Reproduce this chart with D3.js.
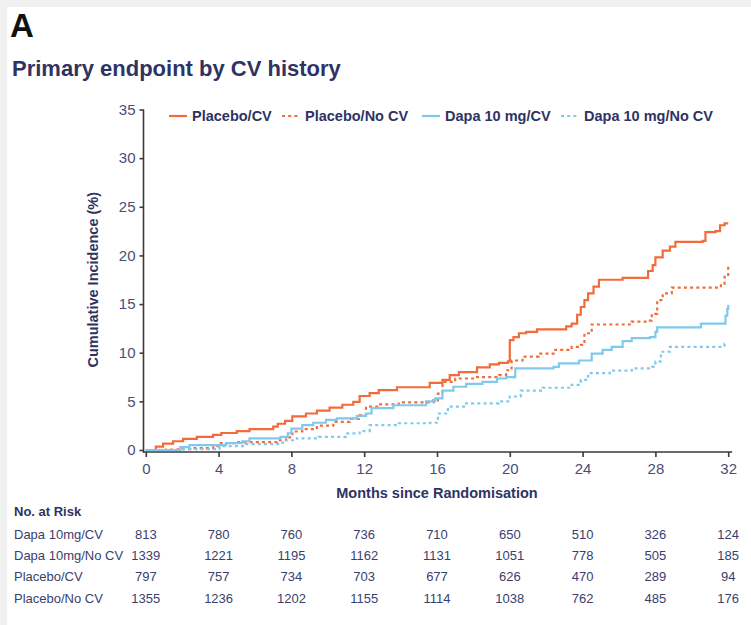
<!DOCTYPE html>
<html lang="en">
    <head>
        <meta charset="utf-8">
        <title>Primary endpoint by CV history</title>
        <script type="text/javascript" src="https://cdn.jsdelivr.net/npm/d3@7/dist/d3.min.js"></script>
        <style>
        body { margin: 0; background: #f1f1f2; }
        svg { display: block; font-family: "Liberation Sans", Arial, sans-serif; }
        .axis path, .axis line { stroke: #3a3a3a; stroke-width: 1.6; }
        .axis text { fill: #4a4e77; font-size: 15px; font-family: "Liberation Sans", Arial, sans-serif; }
        </style>
    </head>
    <body>
        <script type="text/javascript">
            // months since randomisation, cumulative incidence (%)
            var placeboCV = [
                [0, 0], [0.55, 0.35], [0.95, 0.65], [1.5, 0.9], [2.05, 1.15], [2.8, 1.35],
                [3.7, 1.55], [4.15, 1.75], [5.0, 1.95], [5.7, 2.15], [7.0, 2.4], [7.25, 2.7],
                [7.65, 3.0], [8.05, 3.45], [8.8, 3.75], [9.4, 4.05], [10.1, 4.35], [10.8, 4.65],
                [11.4, 4.95], [11.75, 5.55], [12.3, 5.85], [12.8, 6.15], [13.8, 6.45],
                [15.6, 6.9], [16.3, 7.2], [16.7, 7.7], [17.2, 8.0], [18.2, 8.5], [18.9, 8.8],
                [19.4, 8.95], [19.9, 9.1], [20.0, 11.3], [20.2, 11.6], [20.5, 12.0],
                [20.9, 12.15], [21.5, 12.4], [23.1, 12.7], [23.4, 13.0], [23.7, 13.9],
                [23.9, 14.7], [24.1, 15.4], [24.3, 16.1], [24.6, 16.8], [24.9, 17.5],
                [26.2, 17.7], [27.6, 18.4], [27.85, 19.0], [28.0, 19.8], [28.4, 20.5],
                [28.8, 20.9], [29.1, 21.4], [30.6, 21.5], [30.75, 22.4], [31.3, 22.5],
                [31.55, 23.1], [31.8, 23.3], [32.0, 23.3]
            ];
            var placeboNoCV = [
                [0, 0], [1.1, 0.05], [1.8, 0.1], [2.6, 0.2], [3.7, 0.4], [4.05, 0.7],
                [5.0, 0.8], [7.2, 1.0], [7.7, 1.3], [8.05, 1.9], [8.6, 2.15], [9.4, 2.5],
                [10.3, 2.9], [11.2, 3.2], [11.7, 3.6], [12.1, 4.45], [12.8, 4.7], [13.9, 4.9],
                [15.8, 5.1], [16.05, 5.8], [16.3, 7.0], [17.0, 7.35], [18.2, 7.5], [19.4, 7.7],
                [19.8, 8.2], [20.1, 9.2], [20.7, 9.6], [21.6, 9.9], [22.5, 10.3], [23.4, 10.6],
                [23.9, 10.8], [24.1, 12.0], [24.5, 12.9], [26.7, 13.2], [27.6, 13.3],
                [27.8, 14.0], [28.1, 15.4], [28.4, 16.1], [28.9, 16.7], [31.6, 17.1],
                [31.8, 17.8], [32.0, 19.0]
            ];
            var dapaCV = [
                [0, 0], [1.9, 0.3], [2.4, 0.5], [4.4, 0.7], [5.3, 0.9], [5.7, 1.2], [7.4, 1.35],
                [7.8, 1.7], [8.0, 2.2], [8.6, 2.55], [9.2, 2.8], [9.9, 3.1], [10.5, 3.25],
                [11.6, 3.5], [12.1, 3.75], [12.4, 4.3], [13.6, 4.6], [15.4, 5.0], [15.9, 5.3],
                [16.3, 6.1], [16.9, 6.5], [17.6, 6.8], [18.5, 7.0], [19.3, 7.35], [19.8, 7.5],
                [20.3, 8.4], [22.4, 8.55], [22.7, 8.9], [23.8, 9.2], [24.5, 9.9], [25.1, 10.3],
                [25.6, 10.6], [26.2, 11.2], [26.7, 11.5], [27.7, 11.6], [28.0, 12.15],
                [28.1, 12.6], [30.5, 13.0], [31.85, 13.8], [31.95, 14.5], [32.0, 14.9]
            ];
            var dapaNoCV = [
                [0, 0], [2.0, 0.1], [4.05, 0.4], [5.5, 0.6], [7.35, 0.75], [7.7, 1.0],
                [8.3, 1.2], [9.5, 1.35], [11.0, 1.7], [11.75, 1.95], [12.3, 2.55], [13.9, 2.75],
                [15.6, 2.8], [16.05, 3.75], [16.6, 4.45], [17.6, 4.8], [19.4, 5.0], [20.0, 5.5],
                [20.6, 6.1], [21.8, 6.4], [23.4, 6.7], [23.9, 7.2], [24.3, 7.9], [25.5, 8.15],
                [26.7, 8.4], [27.8, 8.55], [28.0, 9.1], [28.3, 10.1], [28.8, 10.6],
                [31.8, 10.9], [31.9, 10.9]
            ];

            var seriesNames = ["Placebo/CV", "Placebo/No CV", "Dapa 10 mg/CV", "Dapa 10 mg/No CV"];
            var seriesData = [placeboCV, placeboNoCV, dapaCV, dapaNoCV];

            var xTicks = [0, 4, 8, 12, 16, 20, 24, 28, 32];
            var yTicks = [0, 5, 10, 15, 20, 25, 30, 35];

            var riskGroups = ["Dapa 10mg/CV", "Dapa 10mg/No CV", "Placebo/CV", "Placebo/No CV"];
            var riskDapaCV = [813, 780, 760, 736, 710, 650, 510, 326, 124];
            var riskDapaNoCV = [1339, 1221, 1195, 1162, 1131, 1051, 778, 505, 185];
            var riskPlaceboCV = [797, 757, 734, 703, 677, 626, 470, 289, 94];
            var riskPlaceboNoCV = [1355, 1236, 1202, 1155, 1114, 1038, 762, 485, 176];
            var riskRows = [riskDapaCV, riskDapaNoCV, riskPlaceboCV, riskPlaceboNoCV];

            var w = 751;
            var h = 625;
            var orange = "#f26b3a";
            var blue = "#80c9ec";
            var navy = "#2e3364";
            var styles = [
                { color: orange, dash: null },
                { color: orange, dash: "3,3.2" },
                { color: blue, dash: null },
                { color: blue, dash: "3,3.2" }
            ];

            var svg = d3.select("body")
                        .append("svg")
                        .attr("width", w)
                        .attr("height", h);

            svg.append("rect")
               .attr("x", 7).attr("y", 7)
               .attr("width", w - 7).attr("height", h - 7)
               .attr("fill", "#ffffff");

            svg.append("text")
               .attr("x", 10).attr("y", 37)
               .attr("font-size", "33px").attr("font-weight", "bold")
               .attr("fill", "#111111")
               .text("A");

            svg.append("text")
               .attr("x", 12).attr("y", 76)
               .attr("font-size", "22px").attr("font-weight", "bold")
               .attr("fill", navy)
               .text("Primary endpoint by CV history");

            var xScale = d3.scaleLinear()
                           .domain([0, 32])
                           .range([145.8, 728.2]);

            var yScale = d3.scaleLinear()
                           .domain([0, 35])
                           .range([450, 109.5]);

            // axes, drawn slightly offset from the zero lines like the original
            var xAxis = d3.axisBottom(xScale)
                          .tickValues(xTicks)
                          .tickSizeInner(5)
                          .tickSizeOuter(0)
                          .tickPadding(6);

            var gx = svg.append("g")
               .attr("class", "axis")
               .attr("transform", "translate(0,452)")
               .call(xAxis);
            gx.select(".domain").attr("d", "M" + (xScale(0) - 2.5) + ",0H" + (xScale(32) + 4));

            var yAxis = d3.axisLeft(yScale)
                          .tickValues(yTicks)
                          .tickSizeInner(4)
                          .tickSizeOuter(0)
                          .tickPadding(4);

            var gy = svg.append("g")
               .attr("class", "axis")
               .attr("transform", "translate(143.5,0)")
               .call(yAxis);
            gy.select(".domain").attr("d", "M0," + yScale(35) + "V" + (yScale(0) + 2.8));

            svg.append("text")
               .attr("transform", "translate(98," + yScale(17.5) + ") rotate(-90)")
               .attr("text-anchor", "middle")
               .attr("font-size", "14.5px").attr("font-weight", "bold")
               .attr("fill", navy)
               .text("Cumulative Incidence (%)");

            svg.append("text")
               .attr("x", xScale(16)).attr("y", 498)
               .attr("text-anchor", "middle")
               .attr("font-size", "14.5px").attr("font-weight", "bold")
               .attr("fill", navy)
               .text("Months since Randomisation");

            // step curves
            var line = d3.line()
                         .curve(d3.curveStepAfter)
                         .x(function(d) { return xScale(d[0]); })
                         .y(function(d) { return yScale(d[1]); });

            svg.selectAll("path.km")
               .data(seriesData)
               .enter()
               .append("path")
               .attr("class", "km")
               .attr("d", line)
               .attr("fill", "none")
               .attr("stroke", function(d, i) { return styles[i].color; })
               .attr("stroke-width", 2.2)
               .attr("stroke-dasharray", function(d, i) { return styles[i].dash; });

            // legend
            var legendX = [169, 282, 422, 561];
            var legend = svg.selectAll("g.legend")
                            .data(seriesNames)
                            .enter()
                            .append("g")
                            .attr("class", "legend")
                            .attr("transform", function(d, i) { return "translate(" + legendX[i] + ",116)"; });

            legend.append("line")
                  .attr("x1", 0).attr("x2", 18)
                  .attr("y1", 0).attr("y2", 0)
                  .attr("stroke", function(d, i) { return styles[i].color; })
                  .attr("stroke-width", 2.2)
                  .attr("stroke-dasharray", function(d, i) { return styles[i].dash; });

            legend.append("text")
                  .attr("x", 23).attr("y", 5)
                  .attr("font-size", "14.5px").attr("font-weight", "bold")
                  .attr("fill", navy)
                  .text(function(d) { return d; });

            // number at risk table
            svg.append("text")
               .attr("x", 14).attr("y", 516)
               .attr("font-size", "13px").attr("font-weight", "bold")
               .attr("fill", navy)
               .text("No. at Risk");

            var rowY = d3.scaleLinear().domain([0, 3]).range([538.5, 602.5]);

            var rows = svg.selectAll("g.risk")
                          .data(riskRows)
                          .enter()
                          .append("g")
                          .attr("class", "risk")
                          .attr("transform", function(d, i) { return "translate(0," + rowY(i) + ")"; });

            rows.append("text")
                .attr("x", 14)
                .attr("font-size", "13px")
                .attr("fill", "#3a3e6c")
                .text(function(d, i) { return riskGroups[i]; });

            rows.selectAll("text.n")
                .data(function(d) { return d; })
                .enter()
                .append("text")
                .attr("class", "n")
                .attr("x", function(d, j) { return xScale(xTicks[j]); })
                .attr("text-anchor", "middle")
                .attr("font-size", "13px")
                .attr("fill", "#3a3e6c")
                .text(function(d) { return d; });

        </script>
    </body>
</html>
